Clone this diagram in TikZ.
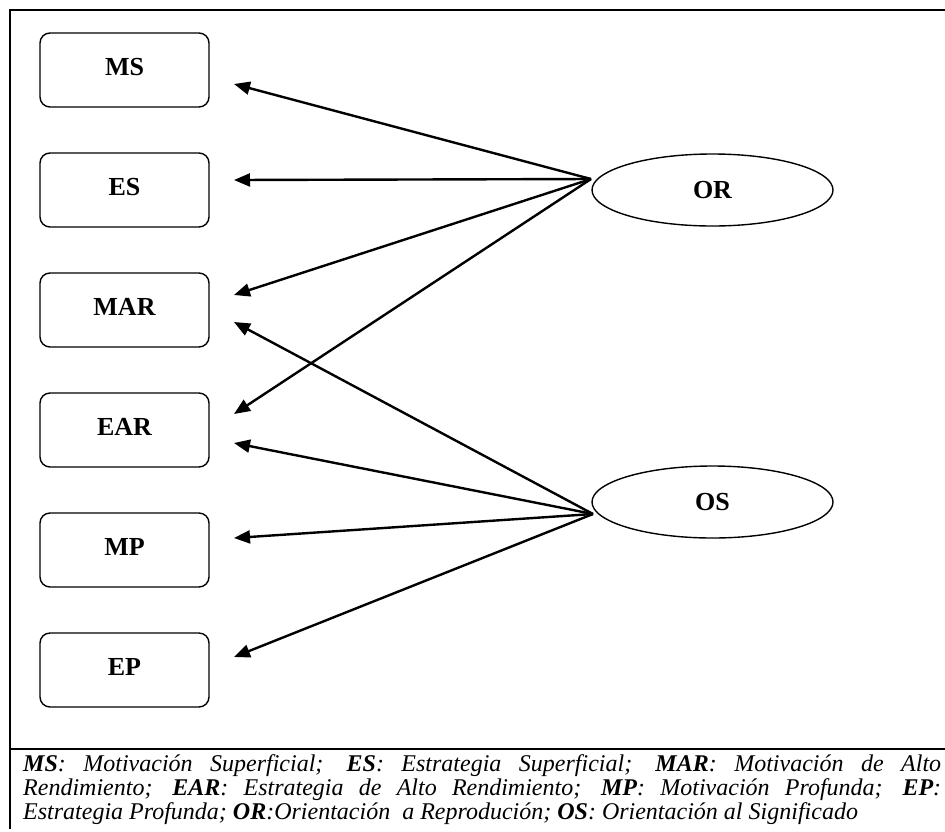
\documentclass[tikz,border=0pt]{standalone}
\usepackage{fontspec}
\setmainfont{Liberation Serif}
\usetikzlibrary{arrows.meta,shapes.geometric}
\begin{document}
\begin{tikzpicture}[x=1pt,y=-1pt,
  box/.style={draw, line width=1.4pt, rounded corners=10pt, minimum width=169pt, minimum height=74pt, inner sep=0pt, font=\fontsize{26}{30}\selectfont\bfseries},
  ell/.style={draw, ellipse, line width=1.4pt, minimum width=241pt, minimum height=72pt, inner sep=0pt, font=\fontsize{26}{30}\selectfont\bfseries},
  arr/.style={line width=2.4pt, -{Triangle[length=16pt,width=13pt]}},
  framel/.style={line width=2.2pt},
  leg/.style={font=\fontsize{24}{24}\selectfont\itshape, inner sep=0pt, anchor=base west}]
\useasboundingbox (0,0) rectangle (945,831);
% frame
\coordinate (fTL) at (10,10);
\coordinate (fTR) at (946,10);
\coordinate (fBL) at (10,829);
\coordinate (rL) at (10,749);
\coordinate (rR) at (946,749);
\draw[framel] (fTR) -- (fTL) -- (fBL);
\draw[framel] (rL) -- (rR);
% boxes
\node[box] (ms)  at (124.5,70)  {\raisebox{6pt}{MS}};
\node[box] (es)  at (124.5,190) {\raisebox{6pt}{ES}};
\node[box] (mar) at (124.5,310) {\raisebox{6pt}{MAR}};
\node[box] (ear) at (124.5,430) {\raisebox{6pt}{EAR}};
\node[box] (mp)  at (124.5,550) {\raisebox{6pt}{MP}};
\node[box] (ep)  at (124.5,670) {\raisebox{6pt}{EP}};
% ellipses
\node[ell] (or) at (712.5,190) {OR};
\node[ell] (os) at (712.5,502) {OS};
% arrow endpoints
\coordinate (orL) at (591,179);
\coordinate (osL) at (593,514);
\coordinate (tMS) at (234,84);
\coordinate (tES) at (234,180);
\coordinate (tMARa) at (234,295);
\coordinate (tMARb) at (234,322);
\coordinate (tEARa) at (234,414);
\coordinate (tEARb) at (234,443);
\coordinate (tMP) at (234,538);
\coordinate (tEP) at (234,657);
\draw[arr] (orL) -- (tMS);
\draw[arr] (orL) -- (tES);
\draw[arr] (orL) -- (tMARa);
\draw[arr] (orL) -- (tEARa);
\draw[arr] (osL) -- (tMARb);
\draw[arr] (osL) -- (tEARb);
\draw[arr] (osL) -- (tMP);
\draw[arr] (osL) -- (tEP);
% legend
\node[leg] (leg1) at (23,771) {\makebox[918pt][s]{\textbf{MS}: Motivación Superficial; \textbf{ES}: Estrategia Superficial; \textbf{MAR}: Motivación de Alto}};
\node[leg] (leg2) at (23,795) {\makebox[918pt][s]{Rendimiento; \textbf{EAR}: Estrategia de Alto Rendimiento; \textbf{MP}: Motivación Profunda; \textbf{EP}:}};
\node[leg] (leg3) at (23,819) {Estrategia Profunda; \textbf{OR}:Orientación\ \ a Reprodución; \textbf{OS}: Orientación al Significado};
\end{tikzpicture}
\end{document}
